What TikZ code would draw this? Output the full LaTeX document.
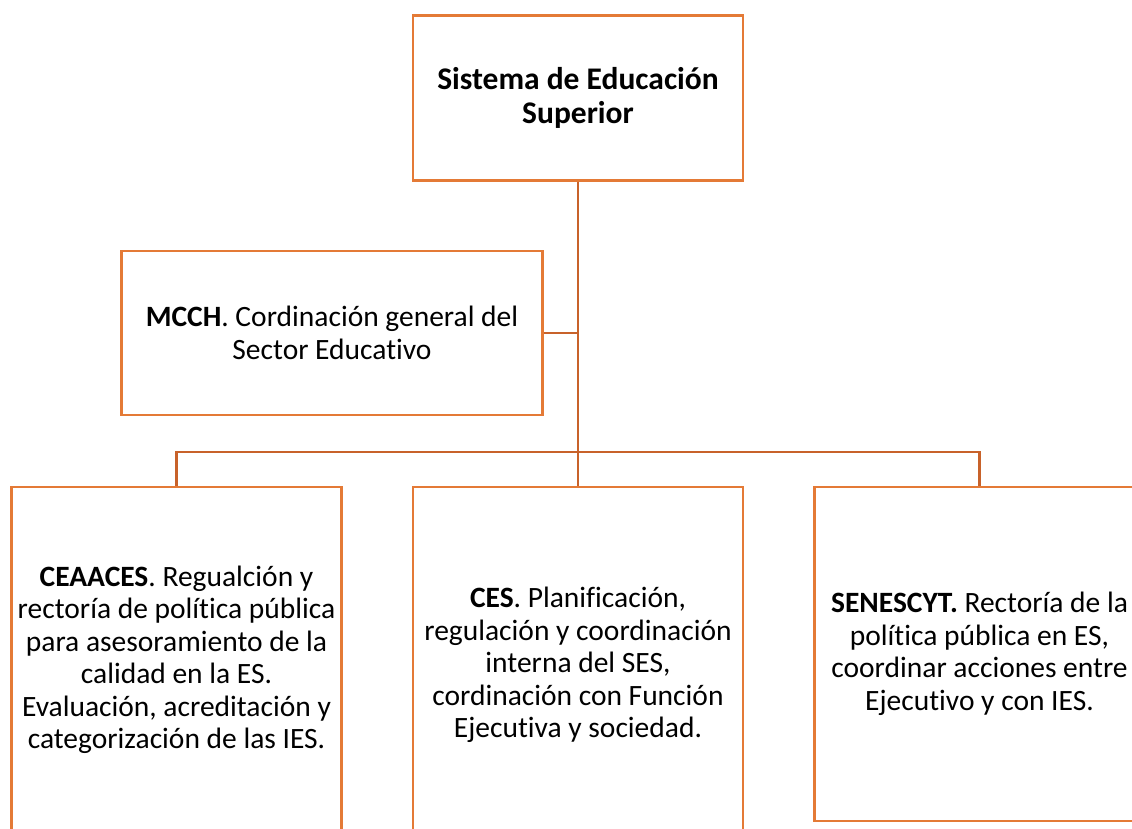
\documentclass[tikz,border=0pt]{standalone}
\usepackage{fontspec}
\setmainfont[Ligatures=NoCommon]{Carlito}
\definecolor{boxorange}{HTML}{E47A36}
\definecolor{lineorange}{HTML}{C8622A}
\tikzset{
  orgbox/.style={draw=boxorange, line width=2.6pt, fill=white, rectangle, align=center,
    inner sep=0pt, font=\fontsize{29.5}{32.5}\selectfont, text=black},
  conn/.style={draw=lineorange, line width=2.8pt}
}
\begin{document}
\begin{tikzpicture}[x=1pt,y=-1pt]
\useasboundingbox (0,0) rectangle (1132,828);
\clip (0,0) rectangle (1132,828);
\coordinate (bus) at (578,452);
\node[orgbox, minimum width=330pt, minimum height=165pt, font=\fontsize{31.5}{33.5}\selectfont\bfseries] (top) at (578,98)
  {Sistema de Educación\\ Superior};
\node[orgbox, minimum width=421pt, minimum height=164pt] (mcch) at (332,333)
  {\textbf{MCCH}. Cordinación general del\\ Sector Educativo};
\node[orgbox, minimum width=330pt, minimum height=346pt] (ceaaces) at (176.5,660)
  {\textbf{CEAACES}. Regualción y\\ rectoría de política pública\\ para asesoramiento de la\\ calidad en la ES.\\ Evaluación, acreditación y\\ categorización de las IES.};
\node[orgbox, minimum width=330pt, minimum height=356pt] (ces) at (578,665)
  {\textbf{CES}. Planificación,\\ regulación y coordinación\\ interna del SES,\\ cordinación con Función\\ Ejecutiva y sociedad.};
\node[orgbox, minimum width=330pt, minimum height=334pt] (senescyt) at (979.5,654)
  {\textbf{SENESCYT.} Rectoría de la\\ política pública en ES,\\ coordinar acciones entre\\ Ejecutivo y con IES.};
\coordinate (mj) at (mcch.east -| top.south);
\draw[conn] (top.south) -- (ces.north);
\draw[conn] (mcch.east) -- (mj);
\draw[conn] (ceaaces.north) |- (bus) -| (senescyt.north);
\end{tikzpicture}
\end{document}
